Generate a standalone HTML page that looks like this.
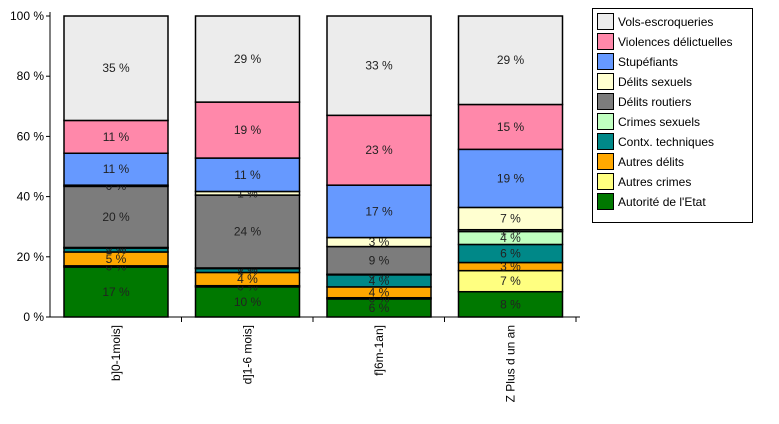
<!DOCTYPE html>
<html><head><meta charset="utf-8"><style>
body{margin:0;background:#fff;font-family:"Liberation Sans",Tahoma,sans-serif;}
svg text{font-family:"Liberation Sans",Tahoma,sans-serif;font-size:12px;}
</style></head><body>
<svg id="c" width="779" height="419"></svg>
<script>
const categories=["b]0-1mois]","d]1-6 mois]","f]6m-1an]","Z Plus d un an"];
const series=["Autorité de l'Etat","Autres crimes","Autres délits","Contx. techniques","Crimes sexuels","Délits routiers","Délits sexuels","Stupéfiants","Violences délictuelles","Vols-escroqueries"];
const colors=["#007800","#ffff80","#ffa800","#008888","#c0ffc0","#7c7c7c","#ffffd0","#6699ff","#ff88aa","#ececec"];
const v0=[16.6,0.4,4.6,1.3,0.2,20.3,0.4,10.6,10.9,34.7];
const v1=[10.0,0.4,4.4,1.3,0.2,24.2,1.2,11.1,18.6,28.6];
const v2=[6.0,0.4,3.6,4.0,0.2,9.2,3.0,17.4,23.2,33.0];
const v3=[8.4,7.0,2.7,6.0,4.3,0.6,7.4,19.3,14.9,29.4];
const values=[v0,v1,v2,v3];
const ticks=[0,20,40,60,80,100];
const NS="http://www.w3.org/2000/svg",svg=document.getElementById('c');
const X0=50,Y0=317,Y1=16,slot=131.5,bw=104;
const y=p=>Y0-(Y0-Y1)*p/100;
const bx=i=>X0+14+i*slot;
function mk(t,a,p){const e=document.createElementNS(NS,t);for(const k in a)e.setAttribute(k,a[k]);(p||svg).appendChild(e);return e;}
ticks.forEach(t=>{
 const tk=mk('line',{x1:X0-4,x2:X0,y1:y(t),y2:y(t),stroke:'#000'});
 
 
 const tx=mk('text',{x:X0-6,y:y(t)+4,'text-anchor':'end'});tx.textContent=t+' %';
 
 
});
categories.forEach((c,i)=>{
 let cum=0;const x=bx(i);
 values[i].forEach((v,s)=>{
  const r=mk('rect',{x:x,y:y(cum+v),width:bw,height:y(cum)-y(cum+v),fill:colors[s],stroke:'#000','stroke-width':1.5});
  
  
  const t=mk('text',{x:x+bw/2,y:y(cum+v/2)+4,'text-anchor':'middle',fill:'#222'});
  t.textContent=Math.round(v)+' %';
  
  
  cum+=v;
 });
 const l=mk('text',{transform:`translate(${x+bw/2+4},325) rotate(-90)`,'text-anchor':'end'});
 l.textContent=c;
 
 
 const sep=mk('line',{x1:X0+(i+1)*slot,x2:X0+(i+1)*slot,y1:Y0,y2:Y0+5,stroke:'#000'});
 
 
});
const ax=mk('path',{d:`M${X0},${Y1-4}V${Y0}H${X0+4*slot+4}`,stroke:'#000',fill:'none'});


const lg=mk('g',{});


mk('rect',{x:592.5,y:8.5,width:160,height:214,fill:'#fff',stroke:'#000'},lg);
for(let k=0;k<series.length;k++){
 const s=series.length-1-k, yy=13+k*20;
 const sw=mk('rect',{x:597.5,y:yy+0.5,width:16,height:16,fill:colors[s],stroke:'#000'},lg);
 
 
 const t=mk('text',{x:618,y:yy+13},lg);t.textContent=series[s];
 
 
}
</script>
</body></html>
